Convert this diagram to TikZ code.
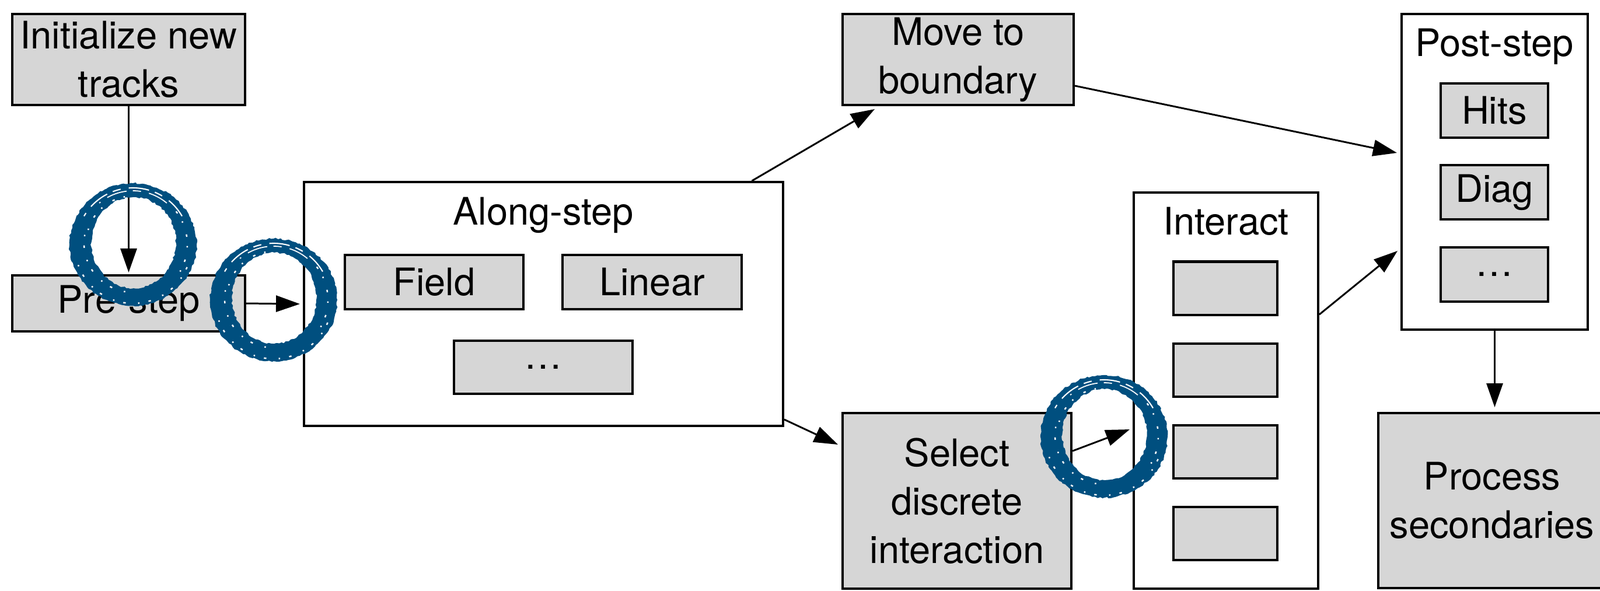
\documentclass[tikz,border=0pt]{standalone}
\usepackage{fontspec}
\setmainfont{TeX Gyre Heros}
\usetikzlibrary{arrows.meta,calc,decorations.pathmorphing}
\definecolor{boxgray}{RGB}{214,214,214}
\definecolor{ringblue}{RGB}{0,79,127}
\newcommand\brushring[1]{%
  \begin{scope}[shift={#1}]
    \fill[ringblue, even odd rule, decorate, decoration={random steps, segment length=1.2pt, amplitude=0.4pt}]
      (0,0) ellipse [x radius=1.09, y radius=1.05]
      (0.01,0.03) ellipse [x radius=0.725, y radius=0.78];
    \foreach \r/\dy/\a/\b/\w in {0.97/0.0/30/150/0.6, 0.90/0.02/50/130/0.5}
      \draw[white, line width=\w pt, dash pattern=on 10pt off 4pt on 4pt off 3pt]
        ([shift={(\a:\r)}]0,\dy) arc[start angle=\a, end angle=\b, radius=\r];
    \foreach \r/\dy/\a/\b in {0.84/0.02/170/270, 1.00/-0.01/200/340, 0.93/0.0/-30/40, 0.80/0.03/100/170}
      \draw[white, line width=0.7pt, dash pattern=on 0.7pt off 4.5pt on 1.2pt off 6pt]
        ([shift={(\a:\r)}]0,\dy) arc[start angle=\a, end angle=\b, radius=\r];
  \end{scope}}
\begin{document}
\begin{tikzpicture}[
  font=\fontsize{18.5}{23.6}\selectfont,
  graybox/.style={draw=black, line width=1.15pt, fill=boxgray, align=center, inner sep=0pt},
  groupbox/.style={draw=black, line width=1.15pt, fill=white, inner sep=0pt},
  flow/.style={line width=0.85pt, -{Triangle[length=4.1mm,width=2.8mm]}}
]
\useasboundingbox (0,0) rectangle (27.42,-10.12);
\clip (0,0) rectangle (27.42,-10.12);

% left column
\node[graybox, minimum width=3.99cm, minimum height=1.56cm] (init) at (2.205,-1.02) {Initialize new\\tracks};
\node[graybox, minimum width=3.99cm, minimum height=0.96cm] (pre) at (2.205,-5.20) {Pre-step};

% along-step group
\node[groupbox, minimum width=8.21cm, minimum height=4.18cm] (along) at (9.315,-5.21) {};
\node (alongtitle) at (9.31,-3.69) {Along-step};
\node[graybox, minimum width=3.06cm, minimum height=0.93cm] (field) at (7.44,-4.835) {Field};
\node[graybox, minimum width=3.07cm, minimum height=0.93cm] (linear) at (11.175,-4.835) {Linear};
\node[graybox, minimum width=3.06cm, minimum height=0.91cm] (adots) at (9.31,-6.295) {…};

% middle column
\node[graybox, minimum width=3.96cm, minimum height=1.56cm] (move) at (16.42,-1.02) {Move to\\boundary};
\node[graybox, minimum width=3.92cm, minimum height=3.01cm] (select) at (16.40,-8.585) {Select\\discrete\\interaction};

% interact group
\node[groupbox, minimum width=3.16cm, minimum height=6.79cm] (interact) at (21.01,-6.695) {};
\node (interacttitle) at (21.01,-3.79) {Interact};
\node[graybox, minimum width=1.78cm, minimum height=0.91cm] (i1) at (21.00,-4.94) {};
\node[graybox, minimum width=1.78cm, minimum height=0.91cm] (i2) at (21.00,-6.345) {};
\node[graybox, minimum width=1.78cm, minimum height=0.91cm] (i3) at (21.00,-7.745) {};
\node[graybox, minimum width=1.78cm, minimum height=0.91cm] (i4) at (21.00,-9.145) {};

% post-step group
\node[groupbox, minimum width=3.19cm, minimum height=5.41cm] (post) at (25.615,-2.945) {};
\node (posttitle) at (25.61,-0.80) {Post-step};
\node[graybox, minimum width=1.84cm, minimum height=0.93cm] (hits) at (25.61,-1.895) {Hits};
\node[graybox, minimum width=1.84cm, minimum height=0.93cm] (diag) at (25.61,-3.295) {Diag};
\node[graybox, minimum width=1.84cm, minimum height=0.93cm] (pdots) at (25.61,-4.705) {…};

\node[graybox, minimum width=3.90cm, minimum height=3.00cm] (proc) at (25.57,-8.58) {Process\\secondaries};

% connectors
\draw[flow] (init.south) -- ([yshift=0.03cm]pre.north);
\draw[flow] (pre.east) -- ([xshift=-0.05cm]along.west);
\draw[flow] ([xshift=3.57cm]along.north) -- ([xshift=-1.43cm,yshift=-0.05cm]move.south);
\draw[flow] ([yshift=0.13cm]along.south east) -- ([xshift=-0.06cm,yshift=0.965cm]select.west);
\draw[flow] ([yshift=-0.45cm]move.east) -- ([xshift=-0.06cm,yshift=0.325cm]post.west);
\draw[flow] ([yshift=1.305cm]interact.east) -- ([xshift=-0.05cm,yshift=-1.355cm]post.west);
\draw[flow] ([yshift=0.855cm]select.east) -- ([xshift=-0.05cm,yshift=-0.665cm]interact.west);
\draw[flow] (post.south) -- ([yshift=0.08cm]post.south |- proc.north);

% brush rings
\brushring{(2.28,-4.19)}
\brushring{(4.69,-5.14)}
\brushring{(18.92,-7.48)}
\end{tikzpicture}
\end{document}
